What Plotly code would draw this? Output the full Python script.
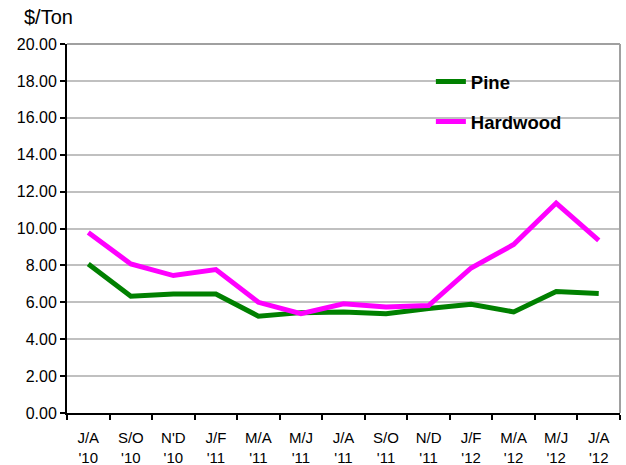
import plotly.graph_objects as go

categories = ["J/A<br>'10", "S/O<br>'10", "N'D<br>'10", "J/F<br>'11", "M/A<br>'11", "M/J<br>'11",
              "J/A<br>'11", "S/O<br>'11", "N/D<br>'11", "J/F<br>'12", "M/A<br>'12", "M/J<br>'12", "J/A<br>'12"]
pine = [8.08, 6.33, 6.45, 6.45, 5.25, 5.44, 5.48, 5.38, 5.66, 5.89, 5.48, 6.58, 6.48]
hardwood = [9.78, 8.08, 7.45, 7.77, 6.0, 5.38, 5.92, 5.75, 5.82, 7.86, 9.13, 11.38, 9.36]
y_ticks = [0, 2, 4, 6, 8, 10, 12, 14, 16, 18, 20]

FONT = "Liberation Sans, Arial, sans-serif"

fig = go.Figure()
fig.add_trace(go.Scatter(x=categories, y=pine, mode="lines", name="Pine",
                         line=dict(color="#008000", width=5), legendgroup="a"))
fig.add_trace(go.Scatter(x=categories, y=hardwood, mode="lines", name="Hardwood",
                         line=dict(color="#FF00FF", width=5), legendgroup="b"))

fig.update_layout(
    width=626, height=465,
    margin=dict(l=67, r=6, t=44, b=52, autoexpand=False),
    paper_bgcolor="white", plot_bgcolor="white",
    font=dict(family=FONT, size=15, color="black"),
    hovermode=False,
    showlegend=True,
    legend=dict(x=0.658, y=0.9485, xanchor="left", yanchor="top",
                font=dict(family=FONT, size=18.5, color="black", weight="bold"),
                tracegroupgap=13, itemwidth=30, bgcolor="rgba(0,0,0,0)"),
    xaxis=dict(type="category", showline=True, linecolor="black", linewidth=2,
               ticks="outside", tickson="boundaries", ticklen=5, tickcolor="black", tickwidth=2,
               showgrid=False, tickfont=dict(size=15), automargin=False,
               ticklabelstandoff=10,
               range=[-0.5, len(categories) - 0.5]),
    yaxis=dict(range=[0, 20], tickvals=y_ticks, ticktext=[f"{v:.2f}" for v in y_ticks],
               showline=True, linecolor="black", linewidth=2,
               ticks="outside", ticklen=5, tickcolor="black", tickwidth=2,
               showgrid=True, gridcolor="#C0C0C0", gridwidth=2, automargin=False,
               zeroline=False, tickfont=dict(size=16)),
    shapes=[dict(type="line", xref="paper", yref="paper", x0=0, x1=1, y0=1, y1=1,
                 line=dict(color="#A0A0A0", width=2)),
            dict(type="line", xref="paper", yref="paper", x0=1, x1=1, y0=0, y1=1,
                 line=dict(color="#A0A0A0", width=2))],
    annotations=[dict(text="$/Ton", xref="paper", yref="paper", x=-0.081, y=1.072,
                      xanchor="left", yanchor="middle", showarrow=False,
                      font=dict(family=FONT, size=20, color="black"))],
)

fig.write_html("out.html", config={"displayModeBar": False},
               post_script="document.body.style.margin='0';")
